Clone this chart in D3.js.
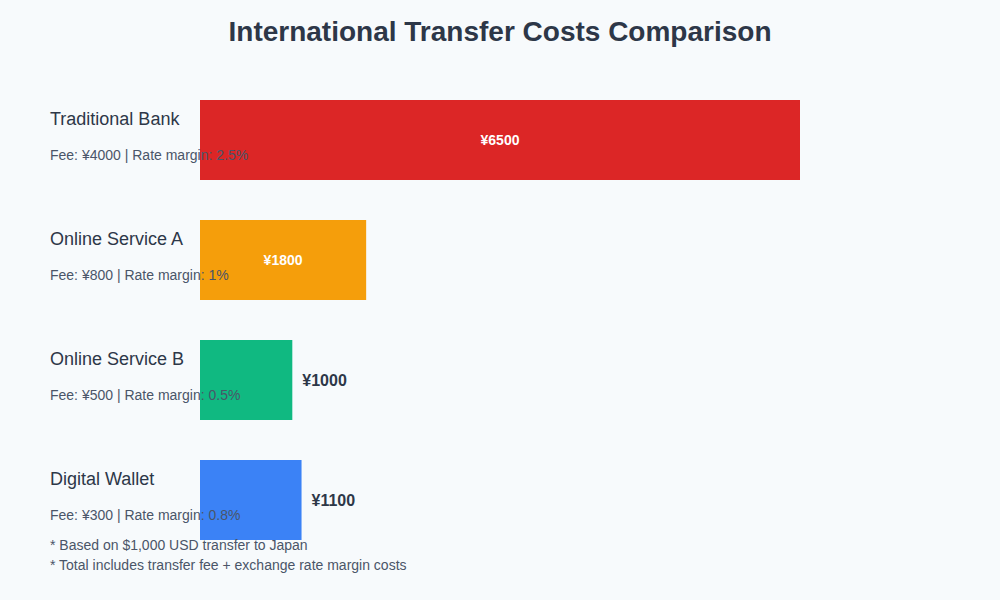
<!DOCTYPE html>
<html><head><meta charset="utf-8">
<script src="https://d3js.org/d3.v7.min.js"></script>
<style>body{margin:0;background:#f7fafc;} svg{display:block;font-family:"Liberation Sans",Arial,sans-serif;}</style>
</head><body><svg id="c" width="1000" height="600"></svg>
<script>
const categories = ["Traditional Bank","Online Service A","Online Service B","Digital Wallet"];
const totals = [6500,1800,1000,1100];
const fees = [4000,800,500,300];
const margins = ["2.5%","1%","0.5%","0.8%"];
const colors = ["#dc2626","#f59e0b","#10b981","#3b82f6"];
const notes = ["* Based on $1,000 USD transfer to Japan","* Total includes transfer fee + exchange rate margin costs"];

const svg = d3.select("#c");
svg.append("rect").attr("width",1000).attr("height",600).attr("fill","#f7fafc");
svg.append("text").attr("x",500).attr("y",41).attr("text-anchor","middle")
  .attr("font-size",28).attr("font-weight","bold").attr("fill","#2d3748")
  .text("International Transfer Costs Comparison");

const x = d3.scaleLinear().domain([0,6500]).range([200,800]);
const y = d3.scaleBand().domain(categories).range([100,580]).paddingInner(1/3).paddingOuter(0);
// band step 120, bar height 80
const yb = d3.scalePoint().domain(categories).range([100,460]);

const g = svg.selectAll("g.row").data(categories).enter().append("g").attr("class","row");
g.append("rect").attr("x",x(0)).attr("y",d=>yb(d)).attr("height",80)
  .attr("width",(d,i)=>x(totals[i])-x(0)).attr("fill",(d,i)=>colors[i]);
g.append("text").attr("x",50).attr("y",d=>yb(d)+25).attr("font-size",18).attr("fill","#2d3748").text(d=>d);
g.append("text").attr("x",50).attr("y",d=>yb(d)+60).attr("font-size",14).attr("fill","#4a5568")
  .text((d,i)=>`Fee: ¥${fees[i]} | Rate margin: ${margins[i]}`);
g.append("text")
  .attr("x",(d,i)=> (x(totals[i])-x(0))>120 ? (x(0)+x(totals[i]))/2 : x(totals[i])+10)
  .attr("y",d=>yb(d)+40).attr("dominant-baseline","central")
  .attr("text-anchor",(d,i)=> (x(totals[i])-x(0))>120 ? "middle":"start")
  .attr("font-size",(d,i)=> (x(totals[i])-x(0))>120 ? 14:16).attr("font-weight","bold")
  .attr("fill",(d,i)=> (x(totals[i])-x(0))>120 ? "#ffffff":"#2d3748")
  .text((d,i)=>`¥${totals[i]}`);

svg.selectAll("text.note").data(notes).enter().append("text").attr("class","note")
  .attr("x",50).attr("y",(d,i)=>550+i*20).attr("font-size",14).attr("fill","#4a5568").text(d=>d);
</script></body></html>
